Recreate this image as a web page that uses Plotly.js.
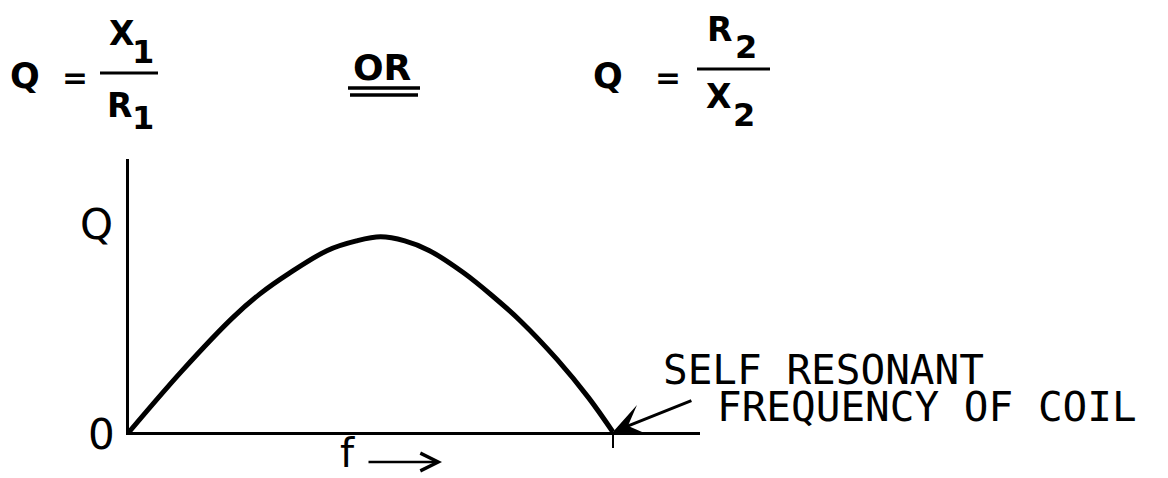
<!DOCTYPE html>
<html>
<head>
<meta charset="utf-8">
<script src="https://cdn.plot.ly/plotly-3.0.1.min.js"></script>
<style>
  html, body { margin: 0; padding: 0; background: #fff; }
  #chart { width: 1168px; height: 478px; }
</style>
</head>
<body>
<div id="chart"></div>
<script>
// Q of a coil versus frequency, normalised: f = 1 is the self resonant frequency,
// Q is relative to the height of the vertical axis.
const freq = [0, 0.11, 0.215, 0.27, 0.33, 0.41, 0.47, 0.52, 0.57, 0.62, 0.69, 0.75, 0.81, 0.885, 0.95, 1.0];
const qValues = [0, 0.225, 0.42, 0.505, 0.58, 0.665, 0.70, 0.715, 0.70, 0.665, 0.585, 0.50, 0.405, 0.265, 0.125, 0];
const selfResonantF = 1.0;
const axisLabels = { y: 'Q', origin: '0', x: 'f' };
const noteLines = ['SELF RESONANT', 'FREQUENCY OF COIL'];

// Page geometry
const W = 1168, H = 478;
const M = { l: 129, r: 468, t: 159, b: 46 };
const plotW = W - M.l - M.r, plotH = H - M.t - M.b;
// pixel position on the page -> paper coordinates
const px = x => (x - M.l) / plotW;
const py = y => (H - M.b - y) / plotH;

const INK = '#000';
const FONT = 'DejaVu Sans, Liberation Sans, sans-serif';
const MONO = 'DejaVu Sans Mono, Liberation Mono, monospace';

function label(text, x, y, size, opts) {
  opts = opts || {};
  return {
    text: text, xref: 'paper', yref: 'paper', x: px(x), y: py(y),
    xanchor: opts.xanchor || 'center', yanchor: opts.yanchor || 'middle',
    showarrow: false,
    font: { family: opts.family || FONT, size: size, color: INK, weight: opts.weight || 'normal' }
  };
}
const bold = { weight: 'bold' };
function rule(x0, x1, y, w) {
  return {
    type: 'line', xref: 'paper', yref: 'paper',
    x0: px(x0), x1: px(x1), y0: py(y), y1: py(y),
    line: { color: INK, width: w || 3 }
  };
}

const annotations = [
  // Q = X1 / R1
  label('Q', 25, 76, 35, bold),
  label('=', 75, 77, 31, bold),
  label('X', 121, 33, 33, bold),
  label('1', 143, 52, 32, bold),
  label('R', 119, 105, 33, bold),
  label('1', 143, 118, 32, bold),
  // OR
  label('OR', 382, 67, 36, bold),
  // Q = R2 / X2
  label('Q', 608, 76, 35, bold),
  label('=', 668, 77, 31, bold),
  label('R', 719, 30, 33, bold),
  label('2', 746, 47, 32, bold),
  label('X', 718, 97, 33, bold),
  label('2', 744, 115, 32, bold),
  // axis letters
  label(axisLabels.y, 115, 224, 42, { xanchor: 'right' }),
  label(axisLabels.origin, 117, 434, 42, { xanchor: 'right' }),
  label(axisLabels.x, 347, 478, 40, { yanchor: 'bottom' }),
  // frequency direction arrow
  {
    text: '', xref: 'paper', yref: 'paper', x: px(442), y: py(462),
    axref: 'pixel', ayref: 'pixel', ax: -75, ay: 0,
    showarrow: true, arrowhead: 5, arrowsize: 1.4, arrowwidth: 2.5,
    arrowcolor: INK, standoff: 0
  },
  // note at the self resonant point
  label(noteLines[0], 661, 370, 41, { xanchor: 'left', family: MONO }),
  label(noteLines[1], 715, 407, 41, { xanchor: 'left', family: MONO }),
  {
    text: '', x: selfResonantF, y: 0, xref: 'x', yref: 'y',
    showarrow: true, ax: 80, ay: -32, arrowhead: 3, arrowsize: 1.8,
    arrowwidth: 3, arrowcolor: INK, standoff: 0
  }
];

const shapes = [
  rule(100, 158, 73),
  rule(697, 770, 69),
  rule(348, 420, 88, 3.5),
  rule(350, 418, 95, 3.5)
];

const trace = {
  x: freq, y: qValues, type: 'scatter', mode: 'lines',
  line: { color: INK, width: 5, shape: 'spline', smoothing: 1 },
  cliponaxis: false, hoverinfo: 'skip'
};

const layout = {
  width: W, height: H,
  margin: { l: M.l, r: M.r, t: M.t, b: M.b, pad: 0 },
  paper_bgcolor: '#fff', plot_bgcolor: '#fff',
  showlegend: false,
  xaxis: {
    range: [0, 1.18], showline: true, linewidth: 3, linecolor: INK,
    showgrid: false, zeroline: false,
    tickvals: [selfResonantF], ticktext: [''], ticks: 'outside',
    ticklen: 13, tickwidth: 2.5, tickcolor: INK, fixedrange: true
  },
  yaxis: {
    range: [0, 1], showline: true, linewidth: 3, linecolor: INK,
    showgrid: false, zeroline: false, showticklabels: false, ticks: '',
    fixedrange: true
  },
  annotations: annotations,
  shapes: shapes
};

Plotly.newPlot('chart', [trace], layout, { displayModeBar: false, staticPlot: true });
</script>
</body>
</html>
